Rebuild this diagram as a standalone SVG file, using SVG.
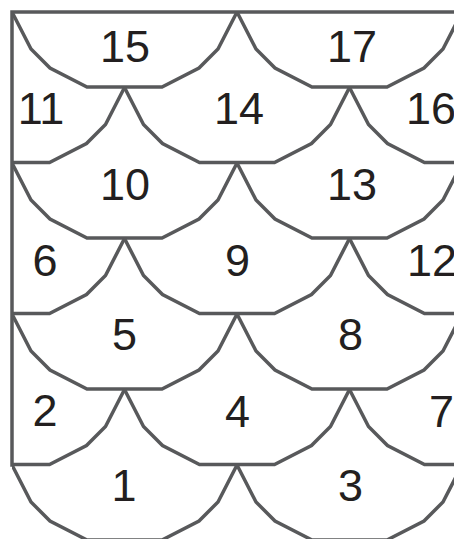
<svg xmlns="http://www.w3.org/2000/svg" xmlns:xlink="http://www.w3.org/1999/xlink" width="454" height="539" viewBox="0 0 454 539">
<style>
.s{fill:none;stroke:#58595b;stroke-width:3.5;stroke-linejoin:miter}
.b{fill:none;stroke:#58595b;stroke-width:3.5;stroke-linecap:square}
text{font-family:"Liberation Sans",Arial,sans-serif;font-size:45px;fill:#231f20;text-anchor:middle}
</style>
<defs>
<path id="sc" class="s" d="M0,0 L19,37 L38,56 L75,75 L150,75 L187,56 L206,37 L225,0"/>
<clipPath id="cp"><rect x="12" y="0" width="460" height="539"/></clipPath>
</defs>
<rect width="454" height="539" fill="#fff"/>
<g id="connectors" clip-path="url(#cp)">
<g id="n15"><use xlink:href="#sc" x="12" y="12"/></g>
<g id="n17"><use xlink:href="#sc" x="237" y="12"/></g>
<g id="n11"><use xlink:href="#sc" x="-100.5" y="87.5"/></g>
<g id="n14"><use xlink:href="#sc" x="124.5" y="87.5"/></g>
<g id="n16"><use xlink:href="#sc" x="349.5" y="87.5"/></g>
<g id="n10"><use xlink:href="#sc" x="12" y="163"/></g>
<g id="n13"><use xlink:href="#sc" x="237" y="163"/></g>
<g id="n6"><use xlink:href="#sc" x="-100.5" y="238.5"/></g>
<g id="n9"><use xlink:href="#sc" x="124.5" y="238.5"/></g>
<g id="n12"><use xlink:href="#sc" x="349.5" y="238.5"/></g>
<g id="n5"><use xlink:href="#sc" x="12" y="314"/></g>
<g id="n8"><use xlink:href="#sc" x="237" y="314"/></g>
<g id="n2"><use xlink:href="#sc" x="-100.5" y="389.5"/></g>
<g id="n4"><use xlink:href="#sc" x="124.5" y="389.5"/></g>
<g id="n7"><use xlink:href="#sc" x="349.5" y="389.5"/></g>
<g id="n1"><use xlink:href="#sc" x="12" y="465"/></g>
<g id="n3"><use xlink:href="#sc" x="237" y="465"/></g>
</g>
<g id="border">
<path class="b" d="M12,465 L12,12 L456,12"/>
</g>
<g id="labels">
<text x="125" y="62">15</text>
<text x="352" y="62">17</text>
<text x="41" y="124">11</text>
<text x="239" y="124">14</text>
<text x="431" y="124">16</text>
<text x="125" y="200">10</text>
<text x="352" y="200">13</text>
<text x="45" y="276">6</text>
<text x="237.5" y="276">9</text>
<text x="432" y="276">12</text>
<text x="124.5" y="350">5</text>
<text x="350.5" y="350">8</text>
<text x="45" y="426">2</text>
<text x="237.5" y="427">4</text>
<text x="441.5" y="427">7</text>
<text x="124" y="501">1</text>
<text x="350.5" y="501">3</text>
</g>
</svg>
